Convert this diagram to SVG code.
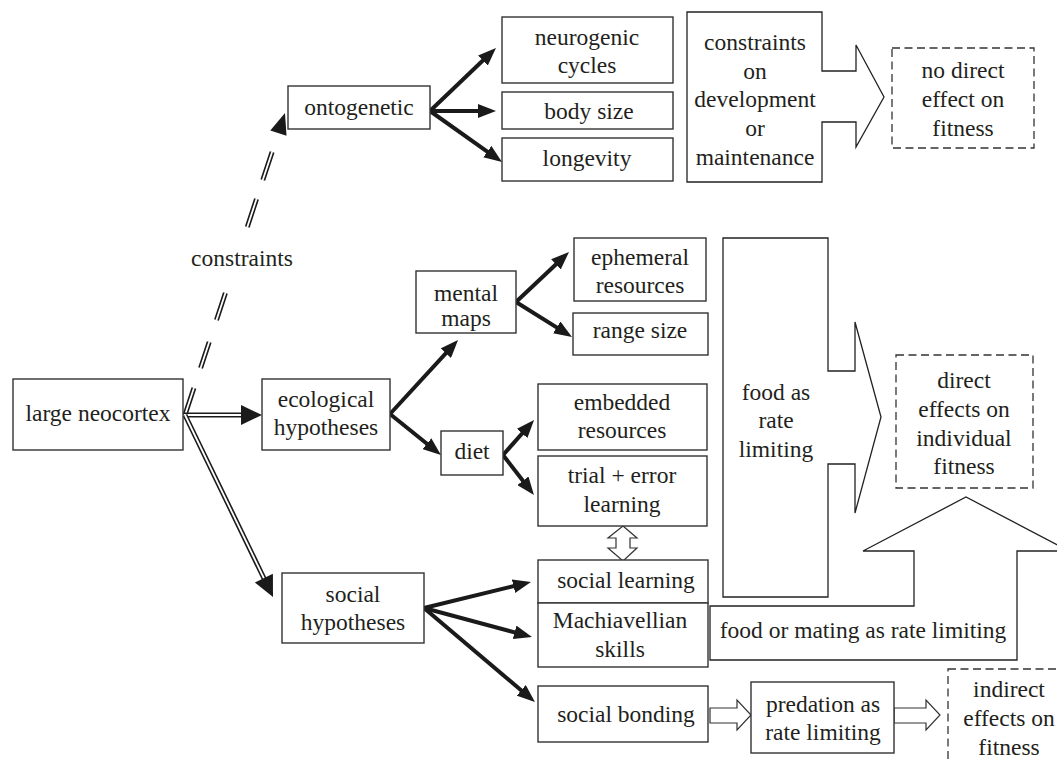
<svg xmlns="http://www.w3.org/2000/svg" width="1057" height="760" viewBox="0 0 1057 760">
<defs>
<style>
.box{fill:#fff;stroke:#333;stroke-width:1.4}
.dbox{fill:none;stroke:#333;stroke-width:1.3;stroke-dasharray:8 4.5}
.big{fill:#fff;stroke:#222;stroke-width:1.3}
.t{font-family:"Liberation Serif","Times New Roman",serif;font-size:23.5px;fill:#231f20;text-anchor:middle}
.arr{stroke:#1a1a1a;stroke-width:4;fill:none;marker-end:url(#ah)}
.dbl{stroke:#1a1a1a;stroke-width:5;fill:none}
.dblw{stroke:#fff;stroke-width:1.8;fill:none}
.hol{fill:#fff;stroke:#333;stroke-width:1.2}
</style>
<marker id="ah" markerUnits="userSpaceOnUse" markerWidth="18" markerHeight="14" refX="6" refY="7" orient="auto">
<path d="M0,0 L18,7 L0,14 z" fill="#1a1a1a"/>
</marker>
</defs>

<g id="connectors">
<!-- constraints dashed double line -->
<path class="dbl" d="M185,415 L193.9,388 M200.6,368 L209.2,342 M216.5,320 L225.4,293 M247.3,227 L256.5,199 M262.8,180 L272.1,152"/>
<path class="dblw" d="M185,415 L193.9,388 M200.6,368 L209.2,342 M216.5,320 L225.4,293 M247.3,227 L256.5,199 M262.8,180 L272.1,152"/>
<polygon points="285,113 286.5,135.8 270.3,130.4" fill="#1a1a1a"/>
<!-- large neocortex to ecological -->
<path class="dbl" d="M184,415 L243,415"/>
<path class="dblw" d="M184,415 L243,415"/>
<polygon points="241,405 262,415 241,425" fill="#1a1a1a"/>
<!-- large neocortex to social -->
<path class="dbl" d="M185,415 L265,580.5"/>
<path class="dblw" d="M185,415 L265,580.5"/>
<polygon points="273,597 254.9,582.5 272.9,573.7" fill="#1a1a1a"/>
<!-- ontogenetic arrows -->
<line class="arr" x1="430" y1="111" x2="487.3" y2="56.3"/>
<line class="arr" x1="430" y1="111" x2="484" y2="111"/>
<line class="arr" x1="430" y1="111" x2="492.2" y2="155.1"/>
<!-- ecological arrows -->
<line class="arr" x1="390" y1="414" x2="449.9" y2="348.8"/>
<line class="arr" x1="390" y1="414" x2="431.6" y2="447.5"/>
<!-- mental maps arrows -->
<line class="arr" x1="516" y1="302" x2="560.3" y2="260.2"/>
<line class="arr" x1="516" y1="302" x2="561.8" y2="330.6"/>
<!-- diet arrows -->
<line class="arr" x1="503" y1="455" x2="526.1" y2="429"/>
<line class="arr" x1="503" y1="455" x2="526.6" y2="485.5"/>
<!-- social arrows -->
<line class="arr" x1="424" y1="608" x2="519.3" y2="584.8"/>
<line class="arr" x1="424" y1="608" x2="520.4" y2="633.9"/>
<line class="arr" x1="424" y1="608" x2="525.8" y2="694.2"/>
<!-- hollow arrows -->
<polygon class="hol" points="623,526 637,538 630,538 630,548 637,548 623,561 608,548 616,548 616,538 608,538"/>
<polygon class="hol" points="710,708 737,708 737,700 751,715 737,730 737,723 710,723"/>
<polygon class="hol" points="894,708 926,708 926,700 940,715 926,730 926,723 894,723"/>
</g>

<g id="large-neocortex"><rect class="box" x="13" y="379" width="170" height="71"/><text class="t" x="98" y="421">large neocortex</text></g>
<g id="ecological"><rect class="box" x="262" y="379" width="128" height="71"/><text class="t" x="326" y="407">ecological</text><text class="t" x="326" y="435">hypotheses</text></g>
<g id="constraints-label"><text class="t" x="242" y="266">constraints</text></g>
<g id="ontogenetic"><rect class="box" x="288" y="86" width="142" height="43"/><text class="t" x="359" y="115">ontogenetic</text></g>
<g id="neurogenic"><rect class="box" x="502" y="17" width="171" height="66"/><text class="t" x="587" y="45">neurogenic</text><text class="t" x="587" y="73">cycles</text></g>
<g id="body-size"><rect class="box" x="502" y="92" width="171" height="37"/><text class="t" x="589" y="119">body size</text></g>
<g id="longevity"><rect class="box" x="502" y="138" width="171" height="43"/><text class="t" x="587" y="166">longevity</text></g>
<g id="constraints-dev"><path class="big" d="M687,12 L822,12 L822,71 L856,71 L856,45 L884,97 L856,147 L856,122 L822,122 L822,182 L687,182 Z"/>
<text class="t" x="755" y="50">constraints</text><text class="t" x="755" y="79">on</text><text class="t" x="755" y="107">development</text><text class="t" x="755" y="136">or</text><text class="t" x="755" y="165">maintenance</text></g>
<g id="no-direct"><rect class="dbox" x="892" y="48" width="142" height="100"/><text class="t" x="963" y="78">no direct</text><text class="t" x="963" y="107">effect on</text><text class="t" x="963" y="136">fitness</text></g>
<g id="mental-maps"><rect class="box" x="416" y="271" width="100" height="62"/><text class="t" x="466" y="301">mental</text><text class="t" x="466" y="326">maps</text></g>
<g id="ephemeral"><rect class="box" x="574" y="238" width="132" height="63"/><text class="t" x="640" y="265">ephemeral</text><text class="t" x="640" y="293">resources</text></g>
<g id="range-size"><rect class="box" x="573" y="313" width="135" height="42"/><text class="t" x="640" y="338">range size</text></g>
<g id="diet"><rect class="box" x="441" y="431" width="62" height="44"/><text class="t" x="472" y="459">diet</text></g>
<g id="embedded"><rect class="box" x="538" y="384" width="169" height="66"/><text class="t" x="622" y="410">embedded</text><text class="t" x="622" y="438">resources</text></g>
<g id="trial-error"><rect class="box" x="538" y="456" width="169" height="70"/><text class="t" x="622" y="483">trial + error</text><text class="t" x="622" y="512">learning</text></g>
<g id="food-rate"><path class="big" d="M723,238 L828,238 L828,371 L855,371 L855,322 L881,417 L855,513 L855,464 L828,464 L828,597 L723,597 Z"/>
<text class="t" x="776" y="400">food as</text><text class="t" x="776" y="428">rate</text><text class="t" x="776" y="457">limiting</text></g>
<g id="direct-effects"><rect class="dbox" x="896" y="355" width="137" height="133"/><text class="t" x="964" y="388">direct</text><text class="t" x="964" y="417">effects on</text><text class="t" x="964" y="446">individual</text><text class="t" x="964" y="474">fitness</text></g>
<g id="social"><rect class="box" x="282" y="573" width="142" height="70"/><text class="t" x="353" y="602">social</text><text class="t" x="353" y="630">hypotheses</text></g>
<g id="social-learning"><rect class="box" x="538" y="560" width="170" height="43"/><text class="t" x="626" y="588">social learning</text></g>
<g id="machiavellian"><rect class="box" x="538" y="603" width="170" height="64"/><text class="t" x="620" y="628">Machiavellian</text><text class="t" x="620" y="657">skills</text></g>
<g id="food-mating"><path class="big" d="M710,606 L914,606 L914,551 L863,551 L966,497 L1069,551 L1017,551 L1017,660 L710,660 Z"/>
<text class="t" x="863" y="638">food or mating as rate limiting</text></g>
<g id="social-bonding"><rect class="box" x="538" y="686" width="170" height="56"/><text class="t" x="626" y="722">social bonding</text></g>
<g id="predation"><rect class="box" x="751" y="682" width="143" height="71"/><text class="t" x="823" y="712">predation as</text><text class="t" x="823" y="740">rate limiting</text></g>
<g id="indirect"><rect class="dbox" x="948" y="669" width="150" height="120"/><text class="t" x="1009" y="697">indirect</text><text class="t" x="1009" y="726">effects on</text><text class="t" x="1009" y="755">fitness</text></g>
</svg>
